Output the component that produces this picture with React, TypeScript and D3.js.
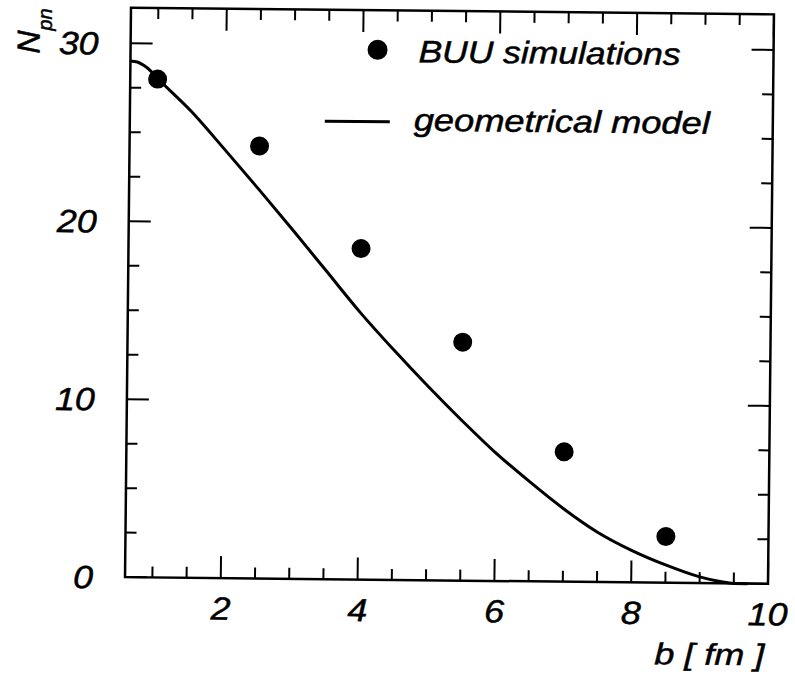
import React from "react";
import * as d3 from "d3";

// BUU simulation points (b in fm, N_pn)
const buuB = [1.0, 2.5, 4.0, 5.5, 7.0, 8.5];
const buuN = [28.0, 24.3, 18.6, 13.4, 7.3, 2.6];

// geometrical model curve
const modelB = [0.6, 0.7, 0.8, 0.9, 1.0, 1.5, 2.0, 2.5, 3.0, 3.5, 4.0, 4.5, 5.0, 5.5, 6.0, 6.5, 7.0, 7.5, 8.0, 8.5, 9.0, 9.3, 9.5, 9.7];
const modelN = [29.0, 28.95, 28.75, 28.45, 28.05, 26.2, 24.05, 21.85, 19.6, 17.3, 15.0, 12.9, 10.9, 9.0, 7.2, 5.6, 4.1, 2.8, 1.8, 1.0, 0.35, 0.1, 0.0, 0.0];

const xTickLabels = [2, 4, 6, 8, 10];
const yTickLabels = [0, 10, 20, 30];

const W = 795;
const H = 675;
const L = 128, R = 771, T = 11, B = 580.5;
const FONT = "'Liberation Sans', Arial, Helvetica, sans-serif";
const LBL = 32;
const digitW = 0.556 * LBL * 1.12;

export default function App() {
  const x = d3.scaleLinear().domain([0.6, 10]).range([L, R]);
  const y = d3.scaleLinear().domain([0, 32]).range([B, T]);

  const xMinor = d3.range(1, 10.01, 0.5).filter((v) => Math.abs(v % 2) > 1e-6);
  const xMajor = d3.range(2, 10.01, 2);
  const yMinor = d3.range(0, 32, 2.5).filter((v) => Math.abs(v % 10) > 1e-6);
  const yMajor = d3.range(0, 32, 10);

  const line = d3
    .line<number>()
    .x((_, i) => x(modelB[i]))
    .y((d) => y(d))
    .curve(d3.curveMonotoneX);

  const tickStroke = { stroke: "#000", strokeWidth: 2 };
  const txt = { fontFamily: FONT, fontStyle: "italic", fill: "#000", stroke: "#000", strokeWidth: 0.5 } as const;

  return (
    <svg width={W} height={H} style={{ position: "absolute", left: 0, top: 0, background: "#fff" }}>
      <rect x={0} y={0} width={W} height={H} fill="#fff" />
      <g transform="rotate(0.6, 450, 295)">
        {/* ticks: bottom & top */}
        {xMinor.map((v) => (
          <g key={"xm" + v}>
            <line x1={x(v)} x2={x(v)} y1={B} y2={B - 11} {...tickStroke} />
            <line x1={x(v)} x2={x(v)} y1={T} y2={T + 11} {...tickStroke} />
          </g>
        ))}
        {xMajor.map((v) => (
          <g key={"xM" + v}>
            <line x1={x(v)} x2={x(v)} y1={B} y2={B - 22} {...tickStroke} />
            <line x1={x(v)} x2={x(v)} y1={T} y2={T + 22} {...tickStroke} />
          </g>
        ))}
        {/* ticks: left & right */}
        {yMinor.map((v) => (
          <g key={"ym" + v}>
            <line x1={L} x2={L + 11} y1={y(v)} y2={y(v)} {...tickStroke} />
            <line x1={R} x2={R - 11} y1={y(v)} y2={y(v)} {...tickStroke} />
          </g>
        ))}
        {yMajor.map((v) => (
          <g key={"yM" + v}>
            <line x1={L} x2={L + 22} y1={y(v)} y2={y(v)} {...tickStroke} />
            <line x1={R} x2={R - 22} y1={y(v)} y2={y(v)} {...tickStroke} />
          </g>
        ))}
        {/* frame */}
        <rect x={L} y={T} width={R - L} height={B - T} fill="none" stroke="#000" strokeWidth={2.5} />

        {/* model curve */}
        <path d={line(modelN) || ""} fill="none" stroke="#000" strokeWidth={3} />

        {/* BUU points */}
        {buuB.map((b, i) => (
          <circle key={"p" + i} cx={x(b)} cy={y(buuN[i])} r={9.5} fill="#000" />
        ))}

        {/* tick labels */}
        {xTickLabels.map((v) => (
          <text key={"xl" + v} x={x(v)} y={622} textAnchor="middle" fontSize={LBL} {...txt}
            textLength={String(v).length * digitW} lengthAdjust="spacingAndGlyphs">
            {v}
          </text>
        ))}
        {yTickLabels.map((v) => (
          <text key={"yl" + v} x={96} y={y(v) + 11.5} textAnchor="end" fontSize={LBL} {...txt}
            textLength={String(v).length * digitW} lengthAdjust="spacingAndGlyphs">
            {v}
          </text>
        ))}

        {/* axis titles */}
        <text x={768} y={662} textAnchor="end" fontSize={30} {...txt} textLength={110} lengthAdjust="spacingAndGlyphs">
          b [ fm ]
        </text>
        <text transform="translate(37, 58) rotate(-90)" fontSize={32} {...txt}>
          N
          <tspan fontSize={20} dy={12}>pn</tspan>
        </text>

        {/* legend */}
        <circle cx={375} cy={50.6} r={10} fill="#000" />
        <text x={416} y={62.5} fontSize={31} {...txt} textLength={262} lengthAdjust="spacingAndGlyphs">
          BUU simulations
        </text>
        <line x1={323} x2={388} y1={122.5} y2={122.5} stroke="#000" strokeWidth={3} />
        <text x={412} y={131} fontSize={31} {...txt} textLength={296} lengthAdjust="spacingAndGlyphs">
          geometrical model
        </text>
      </g>
    </svg>
  );
}
